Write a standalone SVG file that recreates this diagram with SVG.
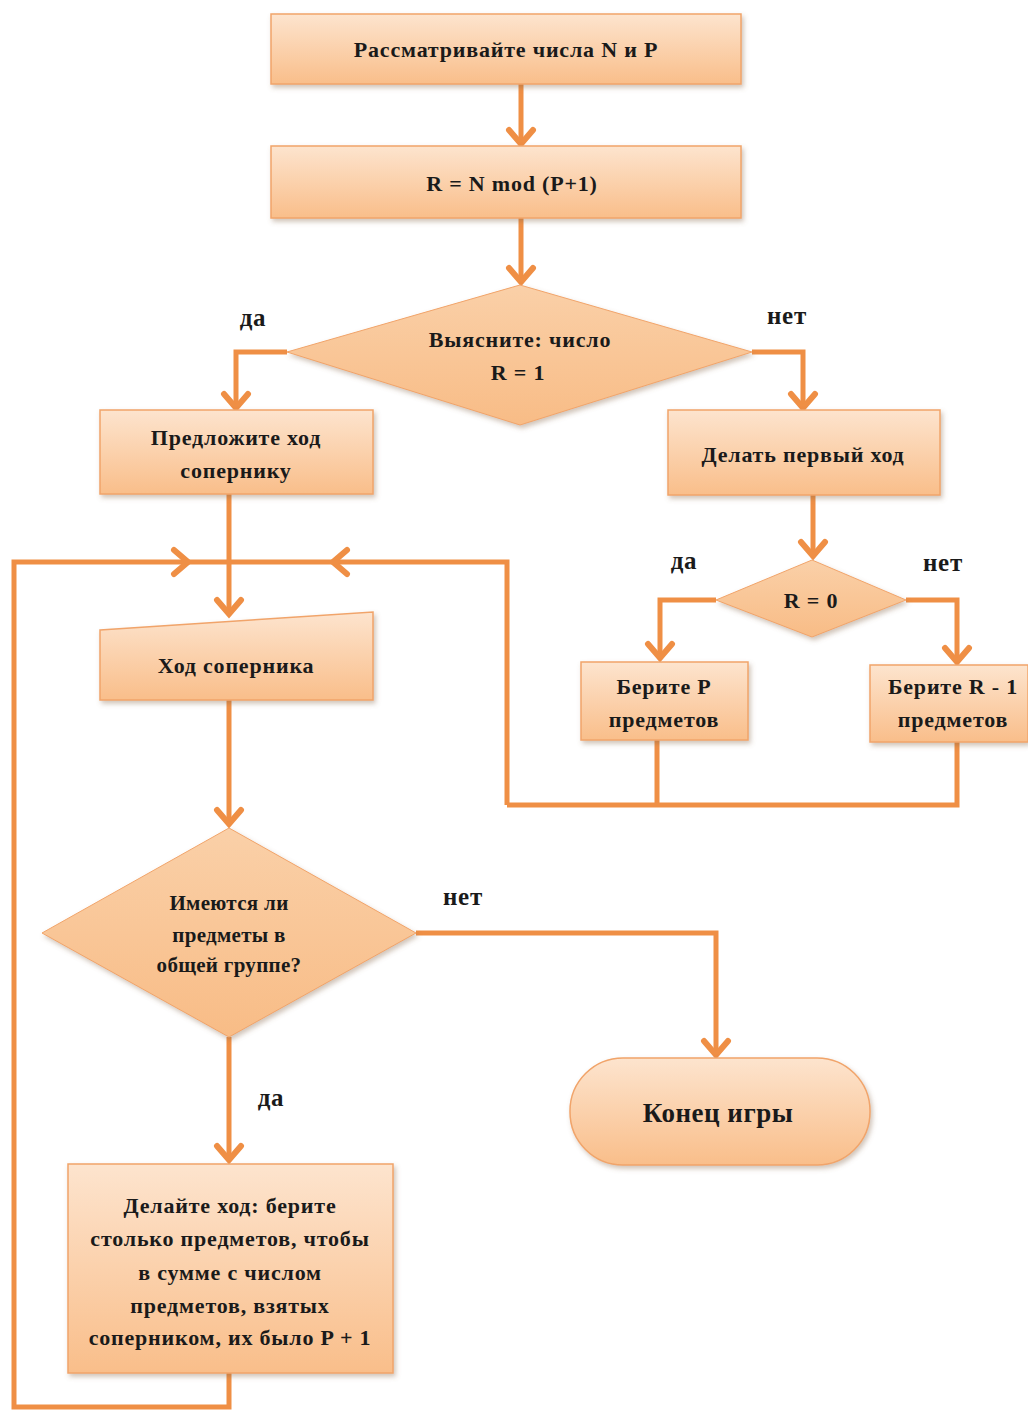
<svg xmlns="http://www.w3.org/2000/svg" width="1028" height="1411" viewBox="0 0 1028 1411">
<defs>
<linearGradient id="g" x1="0" y1="0" x2="0" y2="1">
<stop offset="0" stop-color="#FDE4CE"/>
<stop offset="1" stop-color="#F9BE8A"/>
</linearGradient>
<linearGradient id="gd" x1="0" y1="0" x2="0" y2="1">
<stop offset="0" stop-color="#FAD0A8"/>
<stop offset="1" stop-color="#F8BC86"/>
</linearGradient>
<filter id="sh" x="-10%" y="-10%" width="125%" height="130%">
<feDropShadow dx="2" dy="3" stdDeviation="2.5" flood-color="#8a6a50" flood-opacity="0.4"/>
</filter>
<marker id="ah" markerUnits="userSpaceOnUse" orient="auto" refX="0" refY="0" overflow="visible">
<path d="M-14,-12 L0,0 L-14,12" fill="none" stroke="#EF8F45" stroke-width="6" stroke-linejoin="miter" stroke-linecap="round"/>
</marker>
<style>
.n{fill:url(#g);stroke:#F1A46A;stroke-width:1.5;filter:url(#sh)}
.d{fill:url(#gd);stroke:#F1A46A;stroke-width:1;filter:url(#sh)}
.t{font-family:"Liberation Serif","Times New Roman",serif;font-weight:bold;font-size:22px;letter-spacing:0.8px;fill:#1a1a1a;text-anchor:middle}
.l{font-size:25px}
.s{font-size:21px;letter-spacing:0.3px}
.c{fill:none;stroke:#EF8F45;stroke-width:5;stroke-linejoin:miter}
.a{marker-end:url(#ah)}
</style>
</defs>
<g id="connectors">
<path class="c a" d="M521,84 V144"/>
<path class="c a" d="M521,218 V282"/>
<path class="c a" d="M287,352 H236 V408"/>
<path class="c a" d="M752,352 H803 V408"/>
<path class="c a" d="M813,495 V556"/>
<path class="c a" d="M716,600 H660 V658"/>
<path class="c a" d="M906,600 H957 V662"/>
<path class="c" d="M657,740 V805 M957,742 V805 H507"/>
<path class="c a" d="M507,805 V562 H333"/>
<path class="c" d="M335,562 H229"/>
<path class="c a" d="M229,1373 V1407 H14 V562 H188"/>
<path class="c" d="M186,562 H229"/>
<path class="c a" d="M229,494 V614"/>
<path class="c a" d="M229,700 V824"/>
<path class="c a" d="M416,933 H716 V1055"/>
<path class="c a" d="M229,1037 V1160"/>
</g>
<g id="n1"><rect class="n" x="271" y="14" width="470" height="70"/><text class="t" x="506" y="57">Рассматривайте числа N и P</text></g>
<g id="n2"><rect class="n" x="271" y="146" width="470" height="72"/><text class="t" x="512" y="191">R = N mod  (P+1)</text></g>
<g id="d1"><polygon class="d" points="520,285 752,352 520,425 287,352"/><text class="t" x="520" y="347">Выясните: число</text><text class="t" x="518" y="380">R = 1</text></g>
<text class="t l" x="253" y="326">да</text>
<text class="t l" x="787" y="324">нет</text>
<g id="n3"><rect class="n" x="100" y="410" width="273" height="84"/><text class="t" x="236" y="445">Предложите ход</text><text class="t" x="236" y="478">сопернику</text></g>
<g id="n4"><rect class="n" x="668" y="410" width="272" height="85"/><text class="t" x="803" y="462">Делать первый ход</text></g>
<g id="d2"><polygon class="d" points="812,560 906,600 812,637 716,600"/><text class="t" x="811" y="608">R = 0</text></g>
<text class="t l" x="684" y="569">да</text>
<text class="t l" x="943" y="571">нет</text>
<g id="n5"><rect class="n" x="581" y="662" width="167" height="78"/><text class="t" x="664" y="694">Берите P</text><text class="t" x="664" y="727">предметов</text></g>
<g id="n6"><rect class="n" x="870" y="665" width="158" height="77"/><text class="t" x="953" y="694">Берите R - 1</text><text class="t" x="953" y="727">предметов</text></g>
<g id="n7"><polygon class="n" points="100,630 373,612 373,700 100,700"/><text class="t" x="236" y="673">Ход соперника</text></g>
<g id="d3"><polygon class="d" points="229,828 416,933 229,1037 42,933"/><text class="t s" x="229" y="910">Имеются ли</text><text class="t s" x="229" y="942">предметы в</text><text class="t s" x="229" y="972">общей группе?</text></g>
<text class="t l" x="463" y="905">нет</text>
<text class="t l" x="271" y="1106">да</text>
<g id="n8"><rect class="n" x="570" y="1058" width="300" height="107" rx="53" ry="53"/><text class="t" x="718" y="1122" style="font-size:27px;letter-spacing:0.5px">Конец игры</text></g>
<g id="n9"><rect class="n" x="68" y="1164" width="325" height="209"/>
<text class="t" x="230" y="1213">Делайте ход: берите</text>
<text class="t" x="230" y="1246">столько предметов, чтобы</text>
<text class="t" x="230" y="1280">в сумме с числом</text>
<text class="t" x="230" y="1313">предметов, взятых</text>
<text class="t" x="230" y="1345">соперником, их было  P + 1</text></g>
</svg>
